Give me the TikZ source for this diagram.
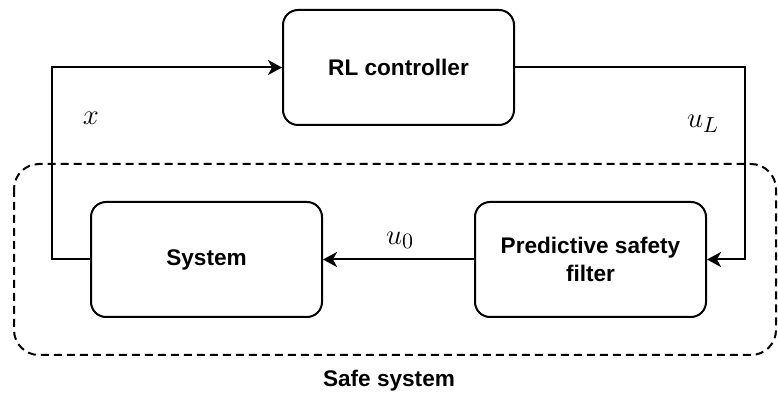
\documentclass[tikz,border=0pt]{standalone}
\usepackage{fontspec}
\setmainfont{Liberation Sans}
\usetikzlibrary{arrows.meta}

\begin{document}
\begin{tikzpicture}[x=0.5pt, y=-0.5pt,
    block/.style={draw, line width=1pt, rounded corners=7.5pt, minimum width=115.5pt,
        minimum height=57.5pt, align=center, font=\fontsize{11.3}{14}\selectfont\bfseries},
    flow/.style={line width=1pt, -{Stealth[length=7pt, width=7.5pt, inset=2pt]}},
    sig/.style={font=\fontsize{15}{18}\selectfont}]
                        \useasboundingbox (0,0) rectangle (778,395);
                        \node[block] (rl) at (398.5,67.5) {RL controller};
                        \node[block] (sys) at (206.5,259.5) {System};
                        \node[block] (filt) at (590.5,259.5) {Predictive safety\\filter};
                        \draw[line width=1pt, dash pattern=on 4pt off 2.5pt, rounded corners=12.5pt] (14,164) rectangle (776,355);
                        \node[font=\fontsize{11.3}{14}\selectfont\bfseries] (safe) at (389,381) {Safe system};
                        \draw[flow] (sys.west) -- ++(-38,0) |- (rl.west);
                        \draw[flow] (rl.east) -- ++(230,0) |- (filt.east);
                        \draw[flow] (filt.west) -- (sys.east);
                        \node[sig] (xlab) at (91,118) {$x$};
                        \node[sig] (ullab) at (703,124) {$u_L$};
                        \node[sig] (u0lab) at (400,240) {$u_0$};
                    \end{tikzpicture}
\end{document}
